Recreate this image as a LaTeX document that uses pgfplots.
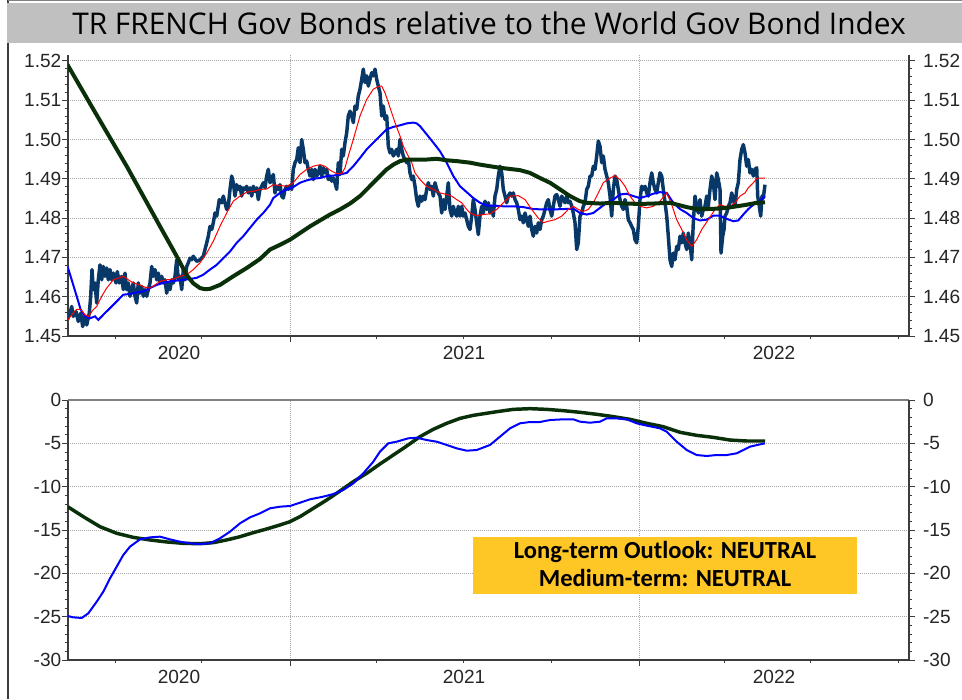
\documentclass[border=0pt]{standalone}
\usepackage{fontspec}
\usepackage{pgfplots}
\usepackage{pgfplotstable}
\pgfplotsset{compat=1.18}
\setmainfont{Liberation Sans}
\newfontfamily\titlefont{Open Sans}
\newfontfamily\boxfont{Carlito}

\definecolor{pricenavy}{RGB}{8,56,104}
\definecolor{mablue}{RGB}{0,0,255}
\definecolor{mared}{RGB}{255,0,0}
\definecolor{madkgreen}{RGB}{10,48,10}
\definecolor{titlegray}{RGB}{192,192,192}
\definecolor{boxyellow}{RGB}{255,199,38}
\definecolor{axisdark}{RGB}{60,60,60}
\definecolor{gridgray}{RGB}{165,165,165}

% ---------- relative strength (top panel) ----------
\pgfplotstableread{
x y
67.3 1.4541
70.0 1.4558
71.7 1.4575
73.3 1.4550
76.0 1.4562
78.3 1.4537
80.7 1.4558
82.7 1.4524
85.0 1.4550
86.7 1.4528
89.3 1.4558
90.7 1.4601
92.0 1.4669
93.3 1.4618
95.0 1.4635
96.7 1.4584
98.3 1.4643
100.0 1.4681
101.7 1.4643
103.3 1.4677
105.0 1.4652
106.7 1.4673
108.3 1.4643
110.0 1.4669
111.7 1.4643
113.3 1.4660
116.0 1.4635
117.3 1.4664
119.3 1.4635
121.7 1.4652
123.3 1.4618
125.0 1.4660
126.7 1.4618
128.3 1.4635
130.0 1.4601
131.7 1.4618
133.3 1.4635
135.0 1.4601
136.7 1.4584
138.3 1.4635
140.0 1.4609
141.7 1.4626
143.3 1.4601
145.0 1.4618
146.7 1.4601
148.3 1.4618
150.0 1.4635
151.7 1.4677
153.3 1.4652
155.0 1.4669
156.7 1.4643
158.3 1.4660
160.0 1.4635
161.7 1.4652
163.3 1.4635
165.0 1.4643
166.7 1.4609
168.3 1.4635
170.0 1.4618
171.7 1.4643
173.3 1.4635
175.0 1.4652
176.7 1.4694
178.3 1.4643
180.0 1.4652
181.7 1.4618
183.3 1.4669
185.0 1.4643
186.7 1.4677
188.3 1.4686
190.0 1.4698
191.7 1.4694
193.3 1.4703
196.7 1.4690
200.0 1.4694
203.3 1.4703
206.7 1.4737
208.3 1.4754
210.0 1.4779
211.7 1.4771
213.3 1.4788
215.0 1.4813
216.7 1.4805
219.3 1.4847
221.7 1.4839
223.3 1.4856
225.0 1.4839
226.7 1.4822
228.3 1.4830
230.0 1.4873
231.7 1.4907
233.3 1.4890
235.0 1.4856
236.7 1.4885
238.3 1.4873
240.0 1.4881
241.7 1.4856
243.3 1.4877
245.0 1.4873
246.7 1.4881
248.3 1.4864
250.0 1.4877
251.7 1.4856
253.3 1.4881
255.0 1.4868
256.7 1.4877
258.3 1.4847
260.0 1.4873
261.7 1.4881
263.3 1.4890
265.0 1.4877
266.7 1.4907
268.3 1.4924
270.0 1.4890
271.7 1.4898
273.3 1.4911
275.0 1.4864
276.7 1.4881
278.3 1.4873
280.0 1.4885
281.7 1.4856
283.3 1.4851
285.0 1.4873
286.7 1.4881
288.3 1.4873
290.0 1.4881
291.7 1.4873
293.3 1.4924
295.0 1.4941
296.7 1.4949
298.3 1.4979
300.0 1.4941
301.7 1.5000
303.3 1.4975
305.0 1.4941
306.7 1.4945
308.3 1.4924
310.0 1.4907
311.7 1.4924
313.3 1.4898
315.0 1.4924
316.7 1.4907
318.3 1.4915
320.0 1.4932
321.7 1.4907
323.3 1.4928
325.0 1.4915
326.7 1.4924
328.3 1.4898
330.0 1.4907
331.7 1.4894
333.3 1.4902
335.0 1.4890
336.7 1.4873
338.3 1.4941
340.0 1.4911
341.7 1.4975
343.3 1.4958
345.0 1.4992
346.7 1.5017
348.3 1.5060
350.0 1.5072
351.7 1.5060
353.3 1.5043
355.0 1.5085
356.7 1.5077
358.3 1.5111
360.0 1.5128
361.7 1.5153
363.3 1.5179
365.0 1.5145
366.7 1.5162
368.3 1.5136
370.0 1.5153
371.7 1.5170
373.3 1.5162
375.0 1.5179
376.7 1.5153
378.3 1.5136
380.0 1.5119
381.7 1.5060
383.3 1.5085
385.0 1.5051
386.7 1.5060
388.3 1.4983
390.0 1.4966
391.7 1.4975
393.3 1.4958
395.0 1.4966
396.7 1.4975
398.3 1.4958
400.0 1.5000
401.7 1.4975
403.3 1.4958
405.0 1.4949
406.7 1.4941
408.3 1.4949
410.0 1.4915
411.7 1.4898
413.3 1.4907
415.0 1.4881
416.7 1.4847
418.3 1.4830
420.0 1.4856
421.7 1.4843
423.3 1.4856
425.0 1.4847
426.7 1.4873
428.3 1.4890
430.0 1.4873
431.7 1.4881
433.3 1.4856
435.0 1.4890
436.7 1.4873
438.3 1.4864
440.0 1.4856
441.7 1.4813
443.3 1.4847
445.0 1.4822
446.7 1.4856
448.3 1.4890
450.0 1.4822
451.7 1.4805
453.3 1.4830
455.0 1.4813
456.7 1.4805
458.3 1.4830
460.0 1.4805
461.7 1.4830
463.3 1.4805
465.0 1.4813
466.7 1.4796
468.3 1.4779
470.0 1.4771
471.7 1.4805
473.3 1.4847
475.0 1.4822
476.7 1.4788
478.3 1.4758
480.0 1.4805
481.7 1.4830
483.3 1.4813
485.0 1.4843
486.7 1.4822
488.3 1.4839
490.0 1.4813
491.7 1.4830
493.3 1.4805
495.0 1.4856
496.7 1.4873
498.3 1.4907
500.0 1.4932
501.7 1.4915
503.3 1.4873
505.0 1.4856
506.7 1.4839
508.3 1.4856
510.0 1.4864
511.7 1.4856
513.3 1.4864
515.0 1.4847
516.7 1.4839
518.3 1.4822
520.0 1.4796
521.7 1.4805
523.3 1.4788
525.0 1.4813
526.7 1.4796
528.3 1.4779
530.0 1.4805
531.7 1.4771
533.3 1.4754
535.0 1.4779
536.7 1.4762
538.3 1.4788
540.0 1.4771
541.7 1.4796
543.3 1.4805
545.0 1.4822
546.7 1.4839
548.3 1.4847
550.0 1.4822
551.7 1.4805
553.3 1.4830
555.0 1.4856
556.7 1.4860
558.3 1.4847
560.0 1.4830
561.7 1.4856
563.3 1.4847
565.0 1.4839
566.7 1.4856
568.3 1.4839
570.0 1.4843
571.7 1.4830
573.3 1.4813
575.0 1.4788
576.7 1.4720
578.3 1.4737
580.0 1.4805
581.7 1.4813
583.3 1.4830
585.0 1.4839
586.7 1.4873
588.3 1.4881
590.0 1.4907
591.7 1.4907
593.3 1.4932
595.0 1.4924
596.7 1.4958
598.3 1.4996
600.0 1.4983
601.7 1.4941
603.3 1.4958
605.0 1.4924
606.7 1.4907
608.3 1.4890
610.0 1.4856
611.7 1.4805
613.3 1.4873
615.0 1.4907
616.7 1.4898
618.3 1.4873
620.0 1.4847
621.7 1.4830
623.3 1.4822
625.0 1.4847
626.7 1.4830
628.3 1.4796
630.0 1.4788
631.7 1.4779
633.3 1.4771
635.0 1.4745
636.7 1.4737
638.3 1.4779
640.0 1.4847
641.7 1.4881
643.3 1.4873
645.0 1.4881
646.7 1.4864
648.3 1.4856
650.0 1.4890
651.7 1.4915
653.3 1.4890
655.0 1.4873
656.7 1.4864
658.3 1.4890
660.0 1.4915
661.7 1.4907
663.3 1.4873
665.0 1.4840
666.7 1.4805
668.3 1.4754
670.0 1.4694
671.7 1.4677
673.3 1.4711
675.0 1.4694
676.7 1.4728
678.3 1.4720
680.0 1.4754
681.7 1.4737
683.3 1.4762
685.0 1.4737
686.7 1.4720
688.3 1.4762
690.0 1.4737
691.7 1.4694
693.3 1.4788
695.0 1.4856
696.7 1.4830
698.3 1.4813
700.0 1.4847
701.7 1.4805
703.3 1.4822
705.0 1.4830
706.7 1.4856
708.3 1.4830
710.0 1.4873
711.7 1.4907
713.3 1.4890
715.0 1.4847
716.7 1.4915
718.3 1.4898
720.0 1.4873
721.0 1.4711
722.7 1.4754
724.0 1.4771
725.0 1.4805
726.7 1.4813
728.3 1.4830
730.0 1.4839
731.7 1.4864
733.3 1.4847
735.0 1.4830
736.7 1.4873
738.3 1.4890
740.0 1.4949
741.7 1.4975
743.3 1.4987
745.0 1.4966
746.7 1.4932
748.3 1.4949
750.0 1.4915
751.7 1.4924
753.3 1.4907
755.0 1.4924
756.7 1.4928
757.7 1.4856
759.3 1.4830
760.7 1.4805
762.0 1.4856
763.3 1.4851
765.0 1.4885
}\pricetab

% short moving average
\pgfplotstableread{
x y
67.3 1.4539
71.7 1.4554
76.7 1.4568
80.7 1.4568
85.0 1.4554
88.3 1.4550
93.3 1.4567
96.7 1.4575
101.7 1.4601
106.7 1.4622
113.3 1.4643
118.3 1.4647
123.3 1.4652
128.3 1.4643
133.3 1.4635
140.0 1.4630
145.0 1.4624
150.0 1.4622
155.0 1.4630
160.0 1.4639
166.7 1.4643
173.3 1.4645
180.0 1.4652
186.7 1.4656
193.3 1.4669
200.0 1.4686
206.7 1.4711
213.3 1.4741
220.0 1.4779
226.7 1.4813
233.3 1.4843
240.0 1.4856
246.7 1.4866
253.3 1.4868
260.0 1.4873
266.7 1.4874
273.3 1.4885
280.0 1.4883
286.7 1.4881
293.3 1.4890
300.0 1.4911
306.7 1.4924
313.3 1.4932
320.0 1.4936
325.0 1.4932
330.0 1.4922
336.7 1.4913
341.7 1.4913
345.0 1.4928
348.3 1.4958
353.3 1.5000
360.0 1.5060
366.7 1.5102
373.3 1.5128
378.3 1.5135
381.7 1.5136
385.0 1.5119
388.3 1.5094
391.7 1.5068
395.0 1.5043
400.0 1.5009
403.3 1.4983
406.7 1.4966
411.7 1.4941
415.0 1.4915
420.0 1.4898
426.7 1.4881
433.3 1.4873
440.0 1.4864
446.7 1.4860
451.7 1.4856
456.7 1.4847
461.7 1.4839
466.7 1.4822
470.0 1.4813
476.7 1.4806
483.3 1.4809
490.0 1.4811
496.7 1.4822
503.3 1.4839
510.0 1.4856
518.3 1.4857
525.0 1.4847
531.7 1.4822
538.3 1.4800
543.3 1.4788
548.3 1.4792
555.0 1.4796
561.7 1.4805
568.3 1.4822
573.3 1.4830
578.3 1.4822
583.3 1.4817
588.3 1.4822
593.3 1.4839
598.3 1.4864
603.3 1.4890
610.0 1.4902
615.0 1.4908
620.0 1.4898
625.0 1.4881
630.0 1.4856
635.0 1.4839
640.0 1.4830
646.7 1.4826
653.3 1.4830
660.0 1.4843
666.7 1.4864
671.7 1.4834
676.7 1.4796
681.7 1.4771
686.7 1.4745
691.7 1.4728
696.7 1.4745
701.7 1.4771
708.3 1.4796
715.0 1.4822
720.0 1.4834
725.0 1.4830
730.0 1.4830
735.0 1.4839
740.0 1.4856
745.0 1.4864
748.3 1.4877
753.3 1.4890
757.3 1.4902
765.0 1.4902
}\shorttab

% medium moving average
\pgfplotstableread{
x y
67.3 1.4679
71.7 1.4643
76.7 1.4601
80.7 1.4567
85.0 1.4550
90.0 1.4545
95.0 1.4550
98.3 1.4541
103.3 1.4554
110.0 1.4571
116.7 1.4588
123.3 1.4605
130.0 1.4607
136.7 1.4611
143.3 1.4613
150.0 1.4622
156.7 1.4630
163.3 1.4635
170.0 1.4639
176.7 1.4641
183.3 1.4643
190.0 1.4645
196.7 1.4648
203.3 1.4656
210.0 1.4669
216.7 1.4681
223.3 1.4698
230.0 1.4715
236.7 1.4737
243.3 1.4754
250.0 1.4775
256.7 1.4796
263.3 1.4813
270.0 1.4834
273.3 1.4851
280.0 1.4864
286.7 1.4873
293.3 1.4879
300.0 1.4890
306.7 1.4896
313.3 1.4900
320.0 1.4902
326.7 1.4907
333.3 1.4908
340.0 1.4911
346.7 1.4915
353.3 1.4932
360.0 1.4953
366.7 1.4975
373.3 1.4992
380.0 1.5009
386.7 1.5026
393.3 1.5032
400.0 1.5036
406.7 1.5041
413.3 1.5043
416.7 1.5041
420.0 1.5034
426.7 1.5013
433.3 1.4992
440.0 1.4970
446.7 1.4941
453.3 1.4907
460.0 1.4881
466.7 1.4866
473.3 1.4851
480.0 1.4839
486.7 1.4832
493.3 1.4832
503.3 1.4830
513.3 1.4830
523.3 1.4828
533.3 1.4823
543.3 1.4822
553.3 1.4822
563.3 1.4823
573.3 1.4824
580.0 1.4813
586.7 1.4809
593.3 1.4813
600.0 1.4826
606.7 1.4839
613.3 1.4847
620.0 1.4860
626.7 1.4862
633.3 1.4856
640.0 1.4851
646.7 1.4856
653.3 1.4862
660.0 1.4866
666.7 1.4864
673.3 1.4839
680.0 1.4823
686.7 1.4813
693.3 1.4800
700.0 1.4794
706.7 1.4796
713.3 1.4806
720.0 1.4806
726.7 1.4798
733.3 1.4792
738.3 1.4794
743.3 1.4809
748.3 1.4823
753.3 1.4834
760.0 1.4843
765.0 1.4856
}\medtab

% long moving average
\pgfplotstableread{
x y
67.3 1.5191
93.3 1.5077
126.7 1.4932
160.0 1.4779
176.7 1.4703
186.7 1.4655
193.3 1.4634
200.0 1.4622
205.0 1.4619
210.0 1.4620
220.0 1.4630
233.3 1.4652
246.7 1.4673
260.0 1.4696
270.0 1.4720
280.0 1.4732
290.0 1.4745
300.0 1.4762
310.0 1.4779
320.0 1.4794
330.0 1.4809
340.0 1.4822
350.0 1.4837
360.0 1.4856
366.7 1.4873
373.3 1.4890
380.0 1.4907
386.7 1.4924
393.3 1.4936
400.0 1.4945
406.7 1.4949
416.7 1.4949
426.7 1.4949
436.7 1.4951
446.7 1.4947
456.7 1.4945
470.0 1.4941
480.0 1.4936
490.0 1.4932
500.0 1.4928
510.0 1.4925
520.0 1.4922
530.0 1.4915
540.0 1.4902
550.0 1.4890
560.0 1.4873
570.0 1.4856
580.0 1.4843
586.7 1.4839
600.0 1.4837
613.3 1.4839
626.7 1.4837
640.0 1.4836
653.3 1.4837
670.0 1.4839
686.7 1.4828
696.7 1.4823
706.7 1.4823
716.7 1.4824
726.7 1.4826
736.7 1.4830
746.7 1.4834
756.7 1.4839
765.0 1.4840
}\longtab

% ---------- momentum (bottom panel) ----------
\pgfplotstableread{
x y
67.7 -12.31
83.3 -13.46
100.0 -14.62
116.7 -15.38
133.3 -15.85
150.0 -16.15
166.7 -16.38
183.3 -16.54
200.0 -16.58
213.3 -16.46
226.7 -16.15
240.0 -15.77
253.3 -15.31
266.7 -14.88
280.0 -14.42
290.0 -14.04
300.0 -13.46
313.3 -12.50
326.7 -11.54
340.0 -10.50
353.3 -9.42
366.7 -8.46
380.0 -7.38
393.3 -6.35
406.7 -5.31
420.0 -4.23
433.3 -3.38
446.7 -2.69
460.0 -2.12
473.3 -1.77
480.0 -1.65
496.7 -1.35
513.3 -1.08
530.0 -1.00
546.7 -1.08
563.3 -1.23
580.0 -1.42
596.7 -1.65
613.3 -1.92
630.0 -2.23
646.7 -2.69
663.3 -3.08
680.0 -3.73
696.7 -4.08
713.3 -4.31
730.0 -4.62
746.7 -4.73
765.0 -4.73
}\ltmom

\pgfplotstableread{
x y
67.7 -24.92
73.3 -25.08
81.7 -25.15
88.3 -24.62
96.7 -23.27
103.3 -22.12
110.0 -20.58
116.7 -19.23
123.3 -17.88
130.0 -16.92
140.0 -16.08
150.0 -15.85
160.0 -15.77
170.0 -16.08
180.0 -16.35
190.0 -16.54
200.0 -16.62
210.0 -16.54
220.0 -15.96
230.0 -15.19
240.0 -14.23
250.0 -13.54
260.0 -13.08
270.0 -12.50
280.0 -12.31
290.0 -12.23
300.0 -11.85
310.0 -11.46
323.3 -11.15
333.3 -10.85
343.3 -10.38
353.3 -9.62
363.3 -8.46
373.3 -7.12
380.0 -5.96
388.3 -5.00
396.7 -4.81
408.3 -4.42
416.7 -4.35
426.7 -4.62
436.7 -4.81
446.7 -5.19
456.7 -5.58
466.7 -5.85
476.7 -5.77
490.0 -5.19
500.0 -4.23
510.0 -3.27
520.0 -2.69
530.0 -2.54
540.0 -2.54
550.0 -2.31
563.3 -2.23
573.3 -2.23
580.0 -2.50
590.0 -2.62
600.0 -2.50
606.7 -2.12
616.7 -2.12
626.7 -2.23
636.7 -2.69
646.7 -2.96
660.0 -3.27
666.7 -3.65
676.7 -4.81
686.7 -5.77
696.7 -6.35
706.7 -6.46
716.7 -6.35
726.7 -6.35
736.7 -6.15
743.3 -5.77
750.0 -5.38
760.0 -5.12
765.0 -5.00
}\mtmom

\pgfplotsset{
  panel/.style={
    scale only axis, width=630.75pt,
    xmin=68, xmax=909,
    tick align=outside,
    major tick length=4.5pt, minor tick length=2.5pt,
    axis line style={-, draw=axisdark, line width=0.8pt},
    every tick/.style={draw=axisdark, line width=0.6pt},
    ticklabel style={font=\fontsize{14.3}{17}\selectfont, text=black!85},
    xticklabel style={yshift=-4pt},
    /pgf/number format/assume math mode=true,
    xtick={290,639}, xticklabels={,},
    minor xtick={115,201.7,376.7,463,551,724,810,898},
    extra x ticks={179,464,774},
    extra x tick labels={2020,2021,2022},
    extra x tick style={major tick length=0pt, grid=none},
    grid style={dash pattern=on 0.75pt off 0.75pt, gridgray, line width=0.6pt},
  },
  leftlabels/.style={yticklabel style={xshift=3pt}},
  rightlabels/.style={yticklabel style={xshift=2.5pt}},
  toppanel/.style={
    panel, height=210.75pt, at={(51pt,272.25pt)}, anchor=south west,
    ymin=1.45, ymax=1.5215,
    ytick={1.45,1.46,1.47,1.48,1.49,1.50,1.51,1.52},
    minor y tick num=4,
    yticklabel style={/pgf/number format/fixed,
      /pgf/number format/fixed zerofill,
      /pgf/number format/precision=2},
  },
  botpanel/.style={
    panel, height=195pt, at={(51pt,29.25pt)}, anchor=south west,
    ymin=-30, ymax=0,
    ytick={-30,-25,-20,-15,-10,-5,0},
    minor y tick num=4,
  },
}

\begin{document}
\begin{tikzpicture}
\begin{scope}[x=0.75pt, y=0.75pt]
  \useasboundingbox (0,0) rectangle (962,699);
  \fill[white] (0,0) rectangle (962,699);
  \draw[axisdark, line width=1.5pt] (8,0) -- (8,699);
  \draw[gray, line width=0.75pt] (8,698.2) -- (962,698.2);
  \fill[titlegray] (7,655.7) rectangle (962,695.7);
  \node[anchor=base, inner sep=0pt, font=\titlefont\fontsize{22.4}{26}\selectfont]
    at (489,664.7) {TR FRENCH Gov Bonds relative to the World Gov Bond Index};
\end{scope}

\begin{pgfinterruptboundingbox}
% top panel: relative strength with its moving averages
\begin{axis}[toppanel, leftlabels, axis x line*=bottom, axis y line*=left,
  xmajorgrids, ymajorgrids]
  \addplot[pricenavy, line width=2.6pt, line join=round] table {\pricetab};
  \addplot[mablue, line width=1.5pt] table {\medtab};
  \addplot[mared, line width=0.75pt] table {\shorttab};
  \addplot[madkgreen, line width=3pt] table {\longtab};
\end{axis}
\begin{axis}[toppanel, rightlabels, axis x line=none, axis y line*=right]
\end{axis}

% bottom panel: momentum
\begin{axis}[botpanel, leftlabels, axis x line*=bottom, axis y line*=left,
  xmajorgrids, ymajorgrids]
  \draw[gray, line width=0.8pt] (rel axis cs:0,1) -- (rel axis cs:1,1);
  \addplot[madkgreen, line width=2.6pt] table {\ltmom};
  \addplot[mablue, line width=1.5pt] table {\mtmom};
\end{axis}
\begin{axis}[botpanel, rightlabels, axis x line=none, axis y line*=right]
\end{axis}

\begin{scope}[x=0.75pt, y=0.75pt]
  \fill[boxyellow] (473,105) rectangle (857,162);
  \node[anchor=base, inner sep=0pt, font=\boxfont\bfseries\fontsize{18.4}{21}\selectfont]
    at (665,140) {Long-term Outlook: NEUTRAL};
  \node[anchor=base, inner sep=0pt, font=\boxfont\bfseries\fontsize{18.4}{21}\selectfont]
    at (665,112.3) {Medium-term: NEUTRAL};
\end{scope}
\end{pgfinterruptboundingbox}
\end{tikzpicture}
\end{document}
